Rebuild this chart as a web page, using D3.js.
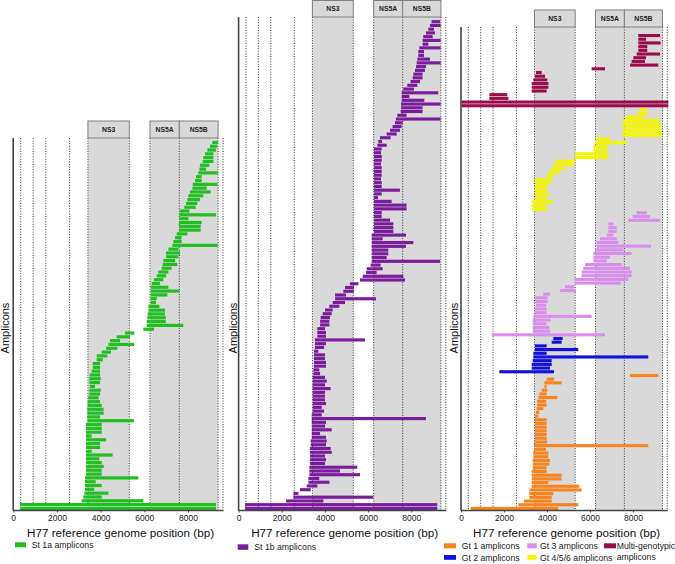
<!DOCTYPE html>
<html><head><meta charset="utf-8">
<script src="https://cdn.jsdelivr.net/npm/d3@7"></script>
<style>body{margin:0;background:#fff} svg{display:block;font-family:"Liberation Sans",Arial,sans-serif}</style>
</head><body><svg id="c" width="675" height="564"></svg>
<script>
// H77 genome region boundaries (dotted lines)
const regionBounds = [342, 915, 1491, 2580, 3420, 5313, 6258, 7602, 9375, 9600];
const shadedRegions = [[3420, 5313], [6258, 9375]];
const regionLabels = ["NS3", "NS5A", "NS5B"];
const regionLabelSpans = [[3420, 5313], [6258, 7602], [7602, 9375]];
const xTicks = [0, 2000, 4000, 6000, 8000];
const xDomain = [0, 9600];

// amplicons listed top to bottom: [start, end]
const st1a = [
[9110,9360],[9005,9340],[8885,9280],[8780,9160],[8700,9160],[8670,9160],[8550,8975],[8520,8825],[8470,9360],[8365,8625],
[8320,8625],[8215,9340],[8200,8855],[8090,9035],[8015,8700],[7970,8550],[7910,8430],[7830,8350],[7635,8060],[7605,9280],
[7605,8015],[7590,8625],[7590,8580],[7590,8580],[7480,7970],[7405,7710],[7330,7710],[7285,9360],[7100,7560],[6995,7635],
[6995,7560],[6870,7405],[6840,7510],[6795,7250],[6640,7100],[6565,6995],[6445,6870],[6340,6720],[6305,7100],[6290,7605],
[6290,7055],[6290,6565],[6290,6535],[6185,6690],[6185,6945],[6155,6945],[6140,6980],[6110,6980],[6110,7785],[5955,6445],
[5115,5545],[4735,5345],[4430,4890],[4355,5545],[4250,4765],[4050,4475],[3820,4310],[3820,4095],[3640,3975],[3640,3975],
[3590,3975],[3500,3975],[3485,4005],[3485,3975],[3500,3745],[3485,4005],[3485,3975],[3440,3910],[3410,3975],[3410,4050],
[3395,4140],[3395,4140],[3395,3975],[3395,5530],[3330,4050],[3330,4050],[3330,4050],[3330,3590],[3330,4250],[3330,3975],
[3330,3975],[3330,3590],[3330,4550],[3330,3940],[3330,4050],[3330,4140],[3330,4050],[3330,4050],[3285,5725],[3285,3775],
[3285,4050],[3285,3700],[3255,4355],[3210,4050],[3135,5955],[310,9280],[310,9280]
];
const st1b = [
[8940,9330],[8865,9360],[8790,9050],[8680,9095],[8555,8990],[8525,9360],[8525,8790],[8370,9360],[8325,8590],[8325,8590],
[8280,8865],[8250,9360],[8220,8680],[8170,8635],[8095,8525],[8065,8525],[7970,8405],[7815,8280],[7630,8125],[7555,9250],
[7555,7910],[7555,8605],[7525,9360],[7525,8525],[7510,8525],[7355,7785],[7290,9360],[7245,7600],[7135,7555],[7015,7475],
[6860,7325],[6550,7045],[6475,6645],[6430,6860],[6275,6630],[6275,6600],[6275,6630],[6275,6630],[6275,6600],[6275,6630],
[6275,6630],[6275,6630],[6275,6600],[6275,6630],[6275,6630],[6275,7475],[6275,6630],[6275,6460],[6275,7090],[6275,7785],
[6275,7785],[6275,6630],[6275,6630],[6275,7015],[6275,7170],[6275,7170],[6275,7170],[6165,7755],[6165,6675],[6165,8095],
[6165,7755],[6165,6935],[6165,6935],[6165,6860],[6165,9330],[6120,6580],[5935,6675],[5905,6395],[5750,7630],[5625,7710],
[5160,5550],[4930,5345],[4855,5345],[4470,4975],[4470,6365],[4360,4930],[4205,4670],[4005,4360],[3895,4315],[3805,4235],
[3775,4205],[3775,4205],[3650,4005],[3650,4050],[3650,4050],[3540,5855],[3540,4050],[3540,3960],[3495,3695],[3495,4005],
[3495,4005],[3495,4050],[3495,4050],[3465,3740],[3465,3775],[3435,4005],[3435,4080],[3435,4005],[3435,4265],[3435,4005],
[3435,4005],[3435,4005],[3435,4050],[3435,3850],[3435,3960],[3390,3850],[3390,8680],[3390,4050],[3390,4005],[3390,4315],
[3390,3775],[3390,4050],[3340,4080],[3340,4050],[3310,4265],[3310,4315],[3310,4005],[3310,4050],[3310,4005],[3280,5500],
[3280,4700],[3280,5625],[3235,3740],[3235,4205],[3155,3650],[2845,3340],[2540,2770],[2540,6240],[2200,3930],[300,9205],
[300,9205]
];
const multiGt = [
[8250,9260],[8250,8610],[8250,9290],[8250,8670],[8250,8670],[8175,9260],[8020,8610],[7940,8560],[7865,9180],[6080,6700],
[3490,3755],[3445,3910],[3365,4015],[3290,4065],[3290,4065],[3290,3985],[1320,2155],[1320,2205],[30,9650],[30,9650]
];
const gt456 = [
[8300,8640],[8250,8690],[7680,8485],[7525,9230],[7525,9290],[7525,9340],[7525,9340],[7525,9340],[6315,6935],[6235,7710],
[6160,6855],[6160,6780],[5305,6855],[5305,6855],[4420,5305],[4300,5230],[4220,4840],[4065,4605],[3985,4300],[3445,4220],
[3445,4140],[3445,4015],[3445,3985],[3445,4110],[3445,3985],[3290,4300],[3290,3985],[3290,4015]
];
const gt3 = [
[8175,8640],[7990,8795],[7785,9260],[6855,7090],[6855,7245],[6855,7245],[6780,7090],[6470,7245],[6315,7320],[6315,8840],
[6235,7555],[6160,7940],[6160,6935],[6160,6780],[5770,7475],[5690,7865],[5615,7940],[5615,7940],[5305,7785],[5305,7430],
[4840,5260],[4605,5350],[3830,4140],[3445,4035],[3445,4035],[3490,3955],[3445,3985],[3445,3985],[3365,6080],[3335,4170],
[3335,3985],[3335,4110],[3335,4140],[1430,6700]
];
const gt2 = [
[4300,4730],[4220,4685],[3445,3985],[3445,5460],[3365,3985],[3365,8715],[3335,4220],[3290,4220],[3290,4140],[1785,4330]
];
const gt1 = [
[7865,9180],[3985,4330],[3880,4685],[3880,3985],[3755,4015],[3645,3985],[3600,4485],[3550,3955],[3550,3985],[3520,3830],
[3490,3645],[3445,3600],[3445,3985],[3445,3985],[3445,3985],[3445,3985],[3445,3985],[3445,3985],[3445,4015],[3395,8715],
[3395,3955],[3365,4065],[3365,4065],[3335,4140],[3335,4110],[3335,3985],[3290,3985],[3290,4685],[3290,4685],[3290,4065],
[3290,5505],[3180,5615],[3180,4300],[3180,4220],[2930,4220],[2670,5460],[450,4530]
];

const C = {st1a:"#21bf21", st1b:"#7a1c9c", gt1:"#f7841e", gt2:"#1010e0", gt3:"#d98eee", gt456:"#f6f600", multi:"#9a0c4c"};

const panels = [
  {x0:13.2, x1:223, axisTop:138, boxTop:121, barTop:140.8, ylabX:8.5,
   groups:[{data:st1a, color:C.st1a}]},
  {x0:238.6, x1:445.8, axisTop:17, boxTop:0.5, barTop:20.1, ylabX:237,
   groups:[{data:st1b, color:C.st1b}]},
  {x0:461, x1:667.3, axisTop:27, boxTop:10, barTop:34, ylabX:457.5,
   groups:[{data:multiGt, color:C.multi},{data:gt456, color:C.gt456},{data:gt3, color:C.gt3},{data:gt2, color:C.gt2},{data:gt1, color:C.gt1}]}
];
const axisY = 510;
const svg = d3.select("#c");

panels.forEach(p => {
  const g = svg.append("g");
  const x = d3.scaleLinear().domain(xDomain).range([p.x0, p.x1]);
  const rows = [];
  p.groups.forEach(gr => gr.data.forEach(d => rows.push({s:d[0], e:d[1], color:gr.color})));
  const y = d3.scaleBand().domain(d3.range(rows.length)).range([p.barTop, axisY]).paddingInner(0.16);

  // shaded regions
  g.selectAll("rect.sh").data(shadedRegions).join("rect")
    .attr("x", d => x(d[0])).attr("width", d => x(d[1]) - x(d[0]))
    .attr("y", p.axisTop).attr("height", axisY - p.axisTop).attr("fill", "#d9d9d9");
  // dotted boundaries
  g.selectAll("line.db").data(regionBounds).join("line")
    .attr("x1", d => x(d)).attr("x2", d => x(d))
    .attr("y1", p.axisTop).attr("y2", axisY)
    .attr("stroke", "#222").attr("stroke-width", 0.9).attr("stroke-dasharray", "1,1.6");
  // region label boxes
  regionLabelSpans.forEach((sp, i) => {
    g.append("rect").attr("x", x(sp[0])).attr("y", p.boxTop)
      .attr("width", x(sp[1]) - x(sp[0])).attr("height", p.axisTop - p.boxTop)
      .attr("fill", "#d9d9d9").attr("stroke", "#808080").attr("stroke-width", 1);
    g.append("text").attr("x", (x(sp[0]) + x(sp[1])) / 2).attr("y", (p.boxTop + p.axisTop) / 2 + 2.4)
      .attr("text-anchor", "middle").attr("font-size", 6.8).attr("font-weight", "bold").attr("fill", "#222")
      .text(regionLabels[i]);
  });
  // bars
  g.selectAll("rect.bar").data(rows).join("rect")
    .attr("x", d => x(d.s)).attr("width", d => x(d.e) - x(d.s))
    .attr("y", (d, i) => y(i)).attr("height", y.bandwidth())
    .attr("fill", d => d.color);
  // x axis
  const ax = g.append("g").attr("transform", `translate(0,${axisY})`)
    .call(d3.axisBottom(x).tickValues(xTicks).tickSize(2.5).tickSizeOuter(0).tickPadding(2.5).tickFormat(d3.format("d")));
  ax.select(".domain").attr("stroke", "#444").attr("stroke-width", 1.6);
  ax.selectAll(".tick line").attr("stroke", "#444");
  ax.selectAll(".tick text").attr("font-size", 8.5).attr("fill", "#222").attr("font-family", "Liberation Sans, Arial, sans-serif");
  // y axis line
  g.append("line").attr("x1", p.x0).attr("x2", p.x0).attr("y1", p.axisTop).attr("y2", axisY + 0.8)
    .attr("stroke", "#444").attr("stroke-width", 1.6);
  // labels
  g.append("text").attr("x", (p.x0 + p.x1) / 2 + 2.5).attr("y", 537)
    .attr("text-anchor", "middle").attr("font-size", 11.7).attr("fill", "#111")
    .text("H77 reference genome position (bp)");
  g.append("text").attr("transform", `translate(${p.ylabX},328) rotate(-90)`)
    .attr("text-anchor", "middle").attr("font-size", 11).attr("fill", "#111").text("Amplicons");
});

// legends
const legendItems = [
  {x:15, y:542.3, w:11, h:5, color:C.st1a, tx:31.7, ty:548.2, label:"St 1a amplicons"},
  {x:237.7, y:544.3, w:10.6, h:5.5, color:C.st1b, tx:254.3, ty:550.2, label:"St 1b amplicons"},
  {x:444, y:543.3, w:12, h:5, color:C.gt1, tx:461.7, ty:549, label:"Gt 1 amplicons"},
  {x:527.3, y:543.3, w:9.5, h:5, color:C.gt3, tx:540, ty:549, label:"Gt 3 amplicons"},
  {x:604, y:543.3, w:12, h:5, color:C.multi, tx:616.7, ty:549, label:"Multi-genotypic"},
  {x:444, y:555, w:12, h:4.8, color:C.gt2, tx:461.7, ty:560.5, label:"Gt 2 amplicons"},
  {x:527.3, y:555, w:9.5, h:4.8, color:C.gt456, tx:540, ty:560.5, label:"Gt 4/5/6 amplicons"}
];
const lg = svg.append("g");
lg.selectAll("rect").data(legendItems).join("rect")
  .attr("x", d => d.x).attr("y", d => d.y).attr("width", d => d.w).attr("height", d => d.h).attr("fill", d => d.color);
lg.selectAll("text").data(legendItems).join("text")
  .attr("x", d => d.tx).attr("y", d => d.ty).attr("font-size", 8.7).attr("fill", "#222").text(d => d.label);
lg.append("text").attr("x", 616.7).attr("y", 559.5).attr("font-size", 8.7).attr("fill", "#222").text("amplicons");
</script>
</body></html>
